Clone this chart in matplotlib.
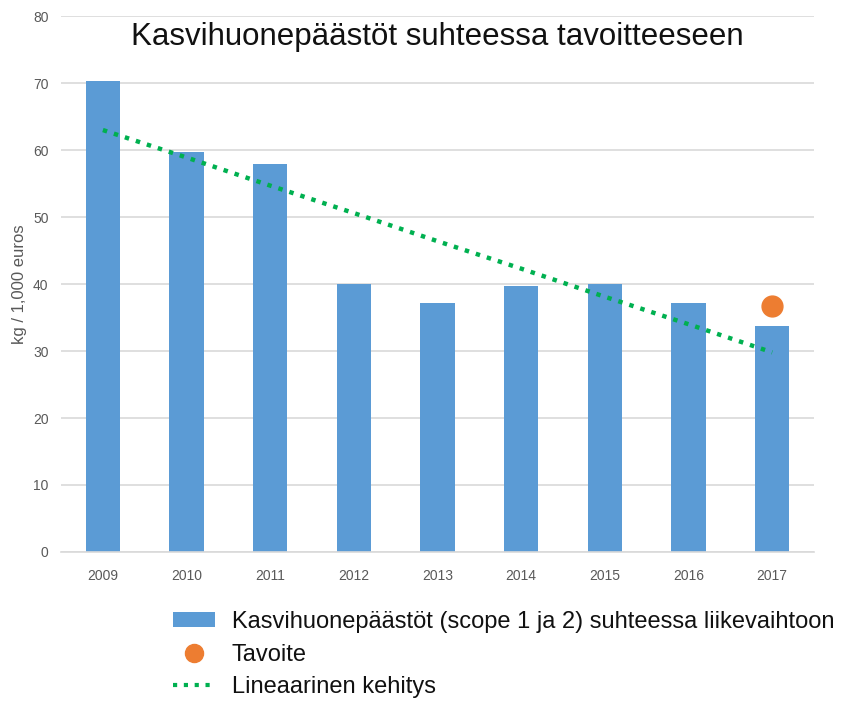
import matplotlib.pyplot as plt
from matplotlib.patches import Patch
from matplotlib.lines import Line2D
import numpy as np

# data
years = ['2009', '2010', '2011', '2012', '2013', '2014', '2015', '2016', '2017']
emissions = [70.3, 59.7, 57.9, 40.0, 37.1, 39.7, 40.0, 37.1, 33.8]
target_year = '2017'
target_value = 36.7
trend = [63.0, 58.9, 54.7, 50.6, 46.4, 42.3, 38.1, 34.0, 29.8]

title = 'Kasvihuonepäästöt suhteessa tavoitteeseen'
ylabel = 'kg / 1,000 euros'
lbl_bars = 'Kasvihuonepäästöt (scope 1 ja 2) suhteessa liikevaihtoon'
lbl_target = 'Tavoite'
lbl_trend = 'Lineaarinen kehitys'

blue = '#5B9BD5'
orange = '#ED7D31'
green = '#00B050'
grid_c = '#D9D9D9'
tick_c = '#595959'

plt.rcParams['font.family'] = ['Liberation Sans', 'DejaVu Sans']

fig = plt.figure(figsize=(8.48, 7.04), dpi=100)
ax = fig.add_axes([0.072, 0.216, 0.888, 0.761])

x = np.arange(len(years))
ax.bar(x, emissions, width=0.41, color=blue, zorder=2)
ax.plot(x, trend, color=green, linestyle=(0, (1, 1.6)), linewidth=3.2, zorder=3)
ax.plot([years.index(target_year)], [target_value], 'o', color=orange,
        markersize=15, zorder=4)

ax.set_xlim(-0.5, len(years) - 0.5)
ax.set_ylim(0, 80)
ax.set_yticks(np.arange(0, 81, 10))
ax.set_xticks(x)
ax.set_xticklabels(years)
ax.yaxis.grid(True, color=grid_c, linewidth=1.2, zorder=0)
ax.set_axisbelow(True)
for s in ['top', 'right', 'left']:
    ax.spines[s].set_visible(False)
ax.spines['bottom'].set_color(grid_c)
ax.spines['bottom'].set_linewidth(1.2)
ax.tick_params(axis='both', length=0, labelsize=10, colors=tick_c)
ax.tick_params(axis='x', pad=12)
ax.tick_params(axis='y', pad=9)
ax.set_ylabel(ylabel, fontsize=12, color=tick_c, labelpad=4)

ax.text(0.5, 0.962, title, transform=ax.transAxes, ha='center', va='center',
        fontsize=22.5, color='#111111')

handles = [
    Patch(facecolor=blue, edgecolor='none'),
    Line2D([], [], marker='o', color=orange, linestyle='none', markersize=13),
    Line2D([], [], color=green, linestyle=(0, (1, 1.6)), linewidth=3),
]
fig.legend(handles, [lbl_bars, lbl_target, lbl_trend],
           loc='upper left', bbox_to_anchor=(0.19, 0.149),
           frameon=False, fontsize=17, handlelength=1.8, handleheight=0.55,
           labelspacing=0.45, handletextpad=0.7, borderpad=0, labelcolor='#111111')

fig.savefig('out.png', dpi=100)
